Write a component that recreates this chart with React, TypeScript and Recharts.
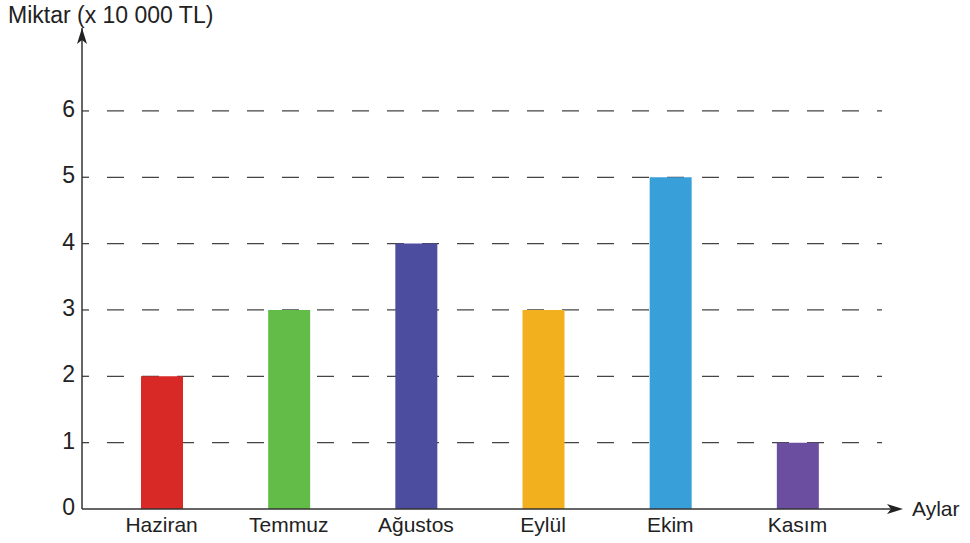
import { BarChart, Bar, XAxis, YAxis, CartesianGrid, Cell } from "recharts";

const months = ["Haziran", "Temmuz", "Ağustos", "Eylül", "Ekim", "Kasım"];
const amounts = [2, 3, 4, 3, 5, 1];
const barColors = ["#D92927", "#62BC47", "#4D4D9F", "#F2B01E", "#389FD8", "#6B4E9F"];
const yTicks = [0, 1, 2, 3, 4, 5, 6];
const gridValues = [1, 2, 3, 4, 5, 6];
const yTitle = "Miktar (x 10 000 TL)";
const xTitle = "Aylar";

const W = 970;
const H = 543;
const AXIS_LEFT = 82;
const AXIS_BOTTOM = 34;
const margin = { top: 28, right: 88, bottom: 0, left: 0 };
const FONT = "'Liberation Sans', Arial, Helvetica, sans-serif";
const INK = "#222";

const data = months.map((m, i) => ({ month: m, amount: amounts[i] }));

function YTick(props: any) {
    const { x, y, payload } = props;
    return (
        <text x={x} y={y} dy={6} textAnchor="end" fontSize={23} fill={INK} fontFamily={FONT}>
            {payload.value}
        </text>
    );
}

// short stub at the axis, then the dashed run
function GridLine(props: any) {
    const { x1, y1, x2, y2 } = props;
    return (
        <g>
            <line x1={x1} y1={y1} x2={x1 + 7} y2={y2} stroke="#444" strokeWidth={1.3} />
            <line
                x1={x1 + 25}
                y1={y1}
                x2={x2}
                y2={y2}
                stroke="#444"
                strokeWidth={1.3}
                strokeDasharray="17 18"
            />
        </g>
    );
}

export default function App() {
    const axisX = AXIS_LEFT;
    const axisY = H - AXIS_BOTTOM;
    const plotRight = W - margin.right;
    const arrowTipX = plotRight + 21;

    return (
        <div style={{ position: "absolute", left: 0, top: 0, width: W, height: H, background: "#fff" }}>
            <BarChart width={W} height={H} data={data} margin={margin} barSize={42}>
                <CartesianGrid vertical={false} horizontalValues={gridValues} horizontal={GridLine} />
                <XAxis
                    dataKey="month"
                    height={AXIS_BOTTOM}
                    padding={{ left: 16, right: 21 }}
                    tickLine={false}
                    tickSize={0}
                    tickMargin={8}
                    axisLine={{ stroke: "#333", strokeWidth: 1.5 }}
                    tick={{ fontSize: 21, fill: INK, fontFamily: FONT }}
                    interval={0}
                />
                <YAxis
                    domain={[0, 7.25]}
                    ticks={yTicks}
                    tickLine={false}
                    tickSize={0}
                    tickMargin={7}
                    axisLine={{ stroke: "#333", strokeWidth: 1.5 }}
                    tick={<YTick />}
                    allowDataOverflow
                    width={AXIS_LEFT}
                />
                <Bar dataKey="amount" isAnimationActive={false}>
                    {data.map((d, i) => (
                        <Cell key={d.month} fill={barColors[i]} />
                    ))}
                </Bar>
            </BarChart>
            <svg
                width={W}
                height={H}
                style={{ position: "absolute", left: 0, top: 0, pointerEvents: "none" }}
            >
                <line x1={plotRight} y1={axisY} x2={arrowTipX - 4} y2={axisY} stroke="#333" strokeWidth={1.5} />
                <path
                    d={`M ${arrowTipX} ${axisY} L ${arrowTipX - 16} ${axisY - 5} L ${arrowTipX - 12} ${axisY} L ${arrowTipX - 16} ${axisY + 5} Z`}
                    fill="#222"
                />
                <path
                    d={`M ${axisX} ${margin.top} L ${axisX - 5} ${margin.top + 16} L ${axisX} ${margin.top + 12} L ${axisX + 5} ${margin.top + 16} Z`}
                    fill="#222"
                />
                <text x={8} y={23} fontSize={23} fill={INK} fontFamily={FONT}>
                    {yTitle}
                </text>
                <text x={912} y={516} fontSize={21} fill={INK} fontFamily={FONT}>
                    {xTitle}
                </text>
            </svg>
        </div>
    );
}
